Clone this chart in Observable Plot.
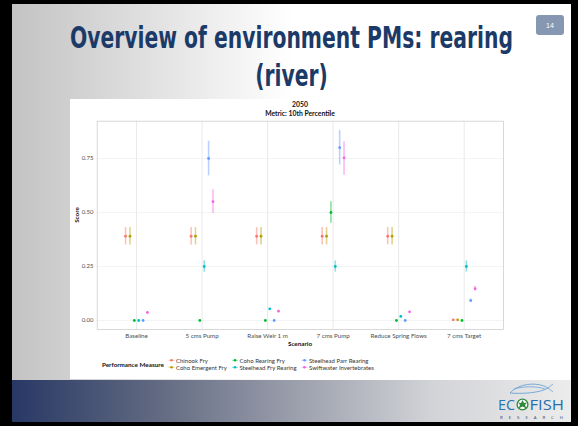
<!DOCTYPE html>
<html><head><meta charset="utf-8">
<script src="https://cdn.jsdelivr.net/npm/d3@7"></script>
<script src="https://cdn.jsdelivr.net/npm/@observablehq/plot@0.6"></script>
<style>
html,body{margin:0;padding:0;background:#000;}
#slide{position:relative;width:578px;height:426px;overflow:hidden;background:#000;}
.abs{position:absolute;}
</style></head><body>
<div id="slide">
  <div class="abs" style="left:12px;top:4px;width:559px;height:418px;background:linear-gradient(to right,#c3c3c3 0px,#ffffff 280px,#ffffff 100%);"></div>
  <div class="abs" style="left:12px;top:380px;width:559px;height:42px;background:linear-gradient(to right,#283865 0%,#5f6880 25%,#9a9eab 50%,#d2d3d7 75%,#ececec 100%);"></div>
  <div id="chart" class="abs" style="left:70px;top:99px;width:440px;height:280px;background:#fff;"></div>
  <svg id="over" class="abs" style="left:0;top:0" width="578" height="426"></svg>
</div>
<script>
// ---- data ----
const titleLines = ["Overview of environment PMs: rearing", "(river)"];
const pageNumber = "14";
const chartTitle = "2050";
const chartSubtitle = "Metric: 10th Percentile";
const xLabel = "Scenario";
const yLabel = "Score";
const legendTitle = "Performance Measure";
const scenarios = ["Baseline", "5 cms Pump", "Raise Weir 1 m", "7 cms Pump", "Reduce Spring Flows", "7 cms Target"];
const seriesNames = ["Chinook Fry", "Coho Emergent Fry", "Coho Rearing Fry", "Steelhead Fry Rearing", "Steelhead Parr Rearing", "Swiftwater Invertebrates"];
const colors = ["#F8766D", "#B79F00", "#00BA38", "#00BFC4", "#619CFF", "#F564E3"];
const yTicks = [0, 0.25, 0.5, 0.75];

const chinookFry      = [0.39, 0.39, 0.39, 0.39, 0.39, 0.003];
const chinookFryLo    = [0.35, 0.35, 0.35, 0.35, 0.35, null];
const chinookFryHi    = [0.43, 0.43, 0.43, 0.43, 0.43, null];
const cohoEmergent    = [0.39, 0.39, 0.39, 0.39, 0.39, 0.003];
const cohoEmergentLo  = [0.35, 0.35, 0.35, 0.35, 0.35, null];
const cohoEmergentHi  = [0.43, 0.43, 0.43, 0.43, 0.43, null];
const cohoRearing     = [0, 0, 0, 0.50, 0, 0];
const cohoRearingLo   = [null, null, null, 0.45, null, null];
const cohoRearingHi   = [null, null, null, 0.55, null, null];
const steelheadFry    = [0, 0.25, 0.054, 0.25, 0.019, 0.25];
const steelheadFryLo  = [null, 0.224, null, 0.224, null, 0.224];
const steelheadFryHi  = [null, 0.276, null, 0.276, null, 0.276];
const steelheadParr   = [0, 0.75, 0, 0.80, 0, 0.092];
const steelheadParrLo = [null, 0.67, null, 0.72, null, 0.084];
const steelheadParrHi = [null, 0.83, null, 0.88, null, 0.100];
const swiftwater      = [0.037, 0.55, 0.043, 0.753, 0.040, 0.147];
const swiftwaterLo    = [null, 0.495, null, 0.672, null, 0.136];
const swiftwaterHi    = [null, 0.605, null, 0.828, null, 0.159];

const values = [chinookFry, cohoEmergent, cohoRearing, steelheadFry, steelheadParr, swiftwater];
const lows   = [chinookFryLo, cohoEmergentLo, cohoRearingLo, steelheadFryLo, steelheadParrLo, swiftwaterLo];
const highs  = [chinookFryHi, cohoEmergentHi, cohoRearingHi, steelheadFryHi, steelheadParrHi, swiftwaterHi];

const dodgeWidth = 0.4;
const rows = [];
seriesNames.forEach((s, j) => {
  scenarios.forEach((sc, i) => {
    rows.push({
      scenario: sc, series: s,
      pos: i + (j - (seriesNames.length - 1) / 2) * dodgeWidth / seriesNames.length,
      value: values[j][i], lo: lows[j][i], hi: highs[j][i]
    });
  });
});

// ---- chart ----
const chart = Plot.plot({
  width: 440, height: 280,
  marginLeft: 26.7, marginRight: 7, marginTop: 21.7, marginBottom: 50,
  style: {background: "#fff", fontFamily: "Lato, sans-serif", fontSize: "6px", color: "#4d4d4d"},
  x: {domain: [-0.6, scenarios.length - 0.4]},
  y: {domain: [-0.0417, 0.9227]},
  color: {domain: seriesNames, range: colors},
  marks: [
    Plot.gridX(d3.range(scenarios.length), {stroke: "#e3e3e3", strokeOpacity: 1, strokeWidth: 0.8}),
    Plot.gridY(yTicks, {stroke: "#ececec", strokeOpacity: 1, strokeWidth: 0.6}),
    Plot.frame({stroke: "#cfcfcf", strokeWidth: 0.8}),
    Plot.axisX(d3.range(scenarios.length), {tickSize: 0, tickPadding: 4, tickFormat: i => scenarios[i], label: null, fontSize: 6.2, fill: "#4d4d4d"}),
    Plot.axisY(yTicks, {tickSize: 0, tickPadding: 3.7, tickFormat: d3.format(".2f"), label: null, fontSize: 6, fill: "#4d4d4d"}),
    Plot.ruleX(rows.filter(d => d.lo != null), {x: "pos", y1: "lo", y2: "hi", stroke: "series", strokeOpacity: 0.45, strokeWidth: 1.6}),
    Plot.dot(rows, {x: "pos", y: "value", fill: "series", r: 1.4})
  ]
});
document.getElementById("chart").appendChild(chart);

// ---- overlay (slide text, chart titles, legend, logo) ----
const svg = d3.select("#over");
const titleFont = "'DejaVu Sans Condensed','DejaVu Sans',sans-serif";
function squeezedTitle(text, cx, baseline, ratio) {
  const t = svg.append("text").attr("x", 0).attr("y", 0)
    .attr("font-family", titleFont).attr("font-weight", 700).attr("font-stretch", "condensed")
    .attr("font-size", 30).attr("fill", "#1c3a68").text(text);
  const w = t.node().getComputedTextLength();
  const r = ratio || (443 / w);
  t.attr("transform", `translate(${cx - w * r / 2},${baseline}) scale(${r},1)`);
  return r;
}
const ratio = squeezedTitle(titleLines[0], 291.5, 48);
squeezedTitle(titleLines[1], 291.5, 86, ratio);

svg.append("rect").attr("x", 536).attr("y", 15).attr("width", 28).attr("height", 20).attr("rx", 3).attr("fill", "#8597b1");
svg.append("text").attr("x", 550).attr("y", 25).attr("text-anchor", "middle").attr("dominant-baseline", "central")
  .attr("font-family", "'Liberation Sans Narrow','Liberation Sans',sans-serif").attr("font-size", 7).attr("fill", "#fff").text(pageNumber);

const cf = "Lato, sans-serif";
svg.append("text").attr("x", 300).attr("y", 104).attr("text-anchor", "middle").attr("dominant-baseline", "central")
  .attr("font-family", cf).attr("font-weight", 700).attr("font-size", 6.8).attr("fill", "#111").text(chartTitle);
svg.append("text").attr("x", 300).attr("y", 113.3).attr("text-anchor", "middle").attr("dominant-baseline", "central")
  .attr("font-family", cf).attr("font-weight", 700).attr("font-size", 6.8).attr("fill", "#111").text(chartSubtitle);
svg.append("text").attr("x", 300).attr("y", 343).attr("text-anchor", "middle").attr("dominant-baseline", "central")
  .attr("font-family", cf).attr("font-weight", 700).attr("font-size", 6.3).attr("fill", "#111").text(xLabel);
svg.append("text").attr("transform", "translate(76.7,215) rotate(-90)").attr("text-anchor", "middle").attr("dominant-baseline", "central")
  .attr("font-family", cf).attr("font-weight", 700).attr("font-size", 6.3).attr("fill", "#111").text(yLabel);

// legend
svg.append("text").attr("x", 102).attr("y", 364.3).attr("dominant-baseline", "central")
  .attr("font-family", cf).attr("font-weight", 700).attr("font-size", 6.3).attr("fill", "#111").text(legendTitle);
const colX = [176, 239.5, 309];
const rowY = [360.3, 367.3];
seriesNames.forEach((s, j) => {
  const cx = colX[Math.floor(j / 2)], cy = rowY[j % 2];
  const g = svg.append("g");
  g.append("line").attr("x1", cx - 7.5).attr("x2", cx - 1.5).attr("y1", cy).attr("y2", cy)
    .attr("stroke", colors[j]).attr("stroke-opacity", 0.45).attr("stroke-width", 1);
  g.append("circle").attr("cx", cx - 4.5).attr("cy", cy).attr("r", 1.3).attr("fill", colors[j]);
  g.append("text").attr("x", cx).attr("y", cy).attr("dominant-baseline", "central")
    .attr("font-family", cf).attr("font-size", 6).attr("fill", "#333").text(s);
});

// logo
const logo = svg.append("g");
logo.append("path").attr("d", "M510,393 C518,384 536,381 548,388 C540,393 522,394 510,393 Z")
  .attr("fill", "none").attr("stroke", "#5b9bd0").attr("stroke-width", 0.8);
logo.append("path").attr("d", "M548,388 L553,384 M548,388 L553,392 M514,389 C524,386 536,386 545,389")
  .attr("fill", "none").attr("stroke", "#5b9bd0").attr("stroke-width", 0.7);
logo.append("text").attr("x", 498).attr("y", 409.5).attr("font-family", "'Open Sans',sans-serif").attr("font-size", 14)
  .attr("fill", "#2476ae").attr("textLength", 17).attr("lengthAdjust", "spacingAndGlyphs").text("EC");
logo.append("circle").attr("cx", 522.5).attr("cy", 404.5).attr("r", 5.4).attr("fill", "#fff").attr("stroke", "#2e8b3a").attr("stroke-width", 1.3);
logo.append("path").attr("d", "M522.5,400 L524,403 L527,402.5 L525,405 L526.5,408.5 L522.5,406.5 L518.5,408.5 L520,405 L518,402.5 L521,403 Z").attr("fill", "#2e8b3a");
logo.append("text").attr("x", 529.5).attr("y", 409.5).attr("font-family", "'Open Sans',sans-serif").attr("font-size", 14)
  .attr("fill", "#2470b0").attr("textLength", 34.5).attr("lengthAdjust", "spacingAndGlyphs").text("FISH");
logo.append("text").attr("x", 500).attr("y", 418.6).attr("font-family", "'Open Sans',sans-serif").attr("font-size", 4.3)
  .attr("fill", "#1f3d6b").attr("textLength", 63).attr("lengthAdjust", "spacing").text("RESEARCH");
</script>
</body></html>
